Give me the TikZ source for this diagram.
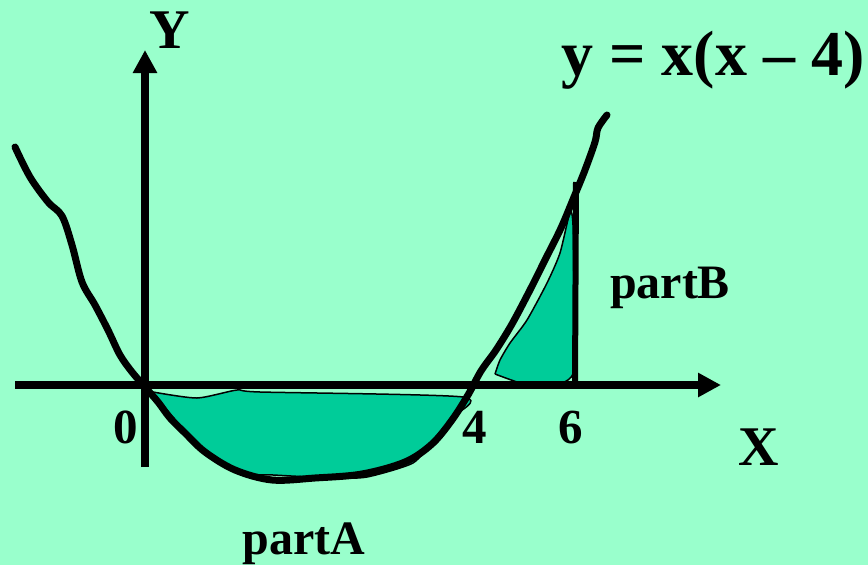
\documentclass[tikz,border=0pt]{standalone}
\usepackage{fontspec}
\setmainfont{Liberation Serif}
\usepackage{tikz}
\usetikzlibrary{arrows.meta}
\definecolor{bgmint}{HTML}{99FFCC}
\definecolor{areagreen}{HTML}{00CC99}
\tikzset{
  axisline/.style={line width=8pt, -{Triangle[length=23pt,width=23pt]}},
  curveline/.style={line width=7pt, line join=round, line cap=round},
  area/.style={fill=areagreen, draw=black, line width=1.5pt, line join=round},
  lbl/.style={inner sep=0pt, anchor=base, font=\bfseries\fontsize{#1}{#1}\selectfont}
}
\begin{document}
\begin{tikzpicture}[x=1pt,y=-1pt]
            \fill[bgmint] (0,0) rectangle (868,565);
            \useasboundingbox (0,0) rectangle (868,565);
            \coordinate (O) at (145,385);
            \coordinate (Xl) at (15,385);
            \coordinate (Xr) at (721,385);
            \coordinate (Yb) at (145,467);
            \coordinate (Yt) at (145,50);
            \coordinate (Sb) at (575,385);
            \coordinate (St) at (576,182);
            % partA
            \draw[area] plot[smooth, tension=0.4] coordinates {(153,392) (197,398) (237,390) (260,392) (463,397)
                (453,417) (433,440) (413,463) (367,477) (333,478) (273,475) (240,473) (210,453) (193,440) (167,410) (153,393)};
            % partB
            \draw[area] plot[smooth, tension=0.4] coordinates {(495,374) (500,360) (510,343) (527,320) (547,283)
                (560,253) (570,212) (573,225) (574,300) (574,368) (568,380) (553,385) (527,385) (495,374)};
            \draw[axisline] (Xl) -- (Xr);
            \draw[axisline] (Yb) -- (Yt);
            \draw[line width=6pt] (Sb) -- (St);
            \draw[curveline] plot[smooth, tension=0.55] coordinates {(15,147) (30,177) (48,202) (62,216) (72,245)
                (82,282) (95,305) (108,330) (120,355) (132,372) (145,387) (158,402) (170,418) (185,433) (205,452)
                (235,470) (272,480) (315,478) (362,474) (405,462) (432,444) (452,420) (468,395) (481,371) (496,350)
                (512,324) (530,290) (546,258) (561,228) (574,197) (585,170) (595,142) (598,128) (607,115)};
            %\draw[dashed] (O) -- (Sb);
            \node[lbl=56] (ylab) at (170,48) {Y};
            \node[lbl=64] (eq) at (713,75) {y = x(x – 4)};
            \node[lbl=48] (pB) at (670,298) {partB};
            \node[lbl=49] (n0) at (126,443) {0};
            \node[lbl=49] (n4) at (475,443) {4};
            \node[lbl=49] (n6) at (571,443) {6};
            \node[lbl=56] (xlab) at (759,465) {X};
            \node[lbl=48] (pA) at (304,554) {partA};
        \end{tikzpicture}
\end{document}
